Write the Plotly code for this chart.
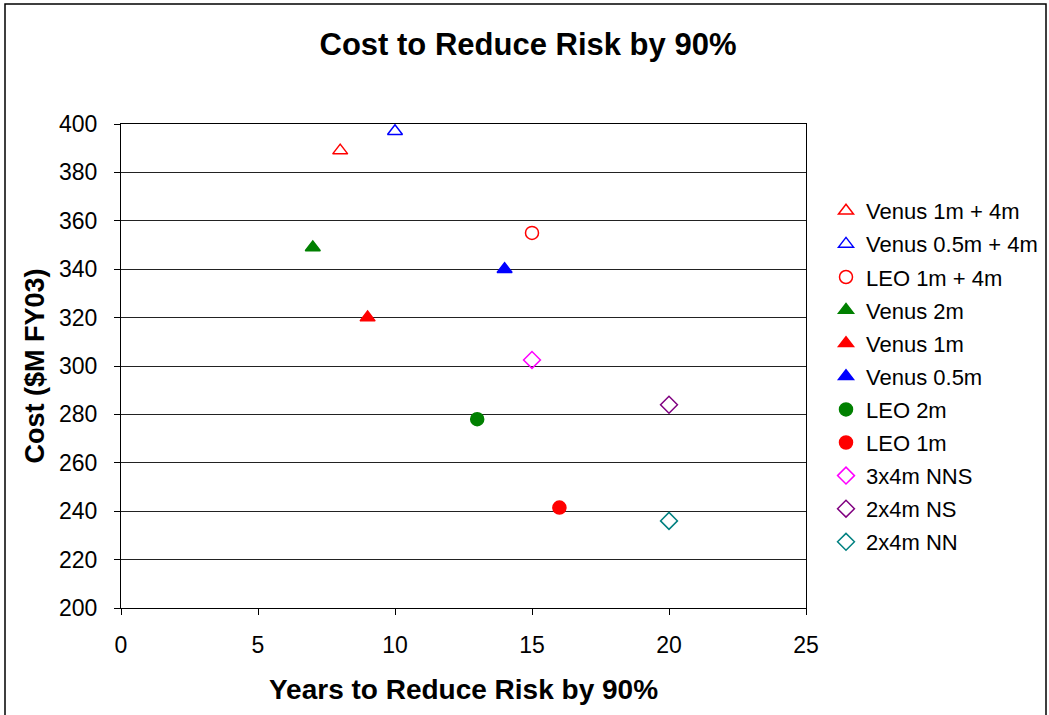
import plotly.graph_objects as go

series_names = ["Venus 1m + 4m", "Venus 0.5m + 4m", "LEO 1m + 4m", "Venus 2m", "Venus 1m",
                "Venus 0.5m", "LEO 2m", "LEO 1m", "3x4m NNS", "2x4m NS", "2x4m NN"]
years = [8, 10, 15, 7, 9, 14, 13, 16, 15, 20, 20]
costs = [389, 397, 355, 349, 320, 340, 278, 241.5, 302.5, 284, 236]
symbols = ["triangle-up-open", "triangle-up-open", "circle-open", "triangle-up", "triangle-up",
           "triangle-up", "circle", "circle", "diamond-open", "diamond-open", "diamond-open"]
colors = ["#FF0000", "#0000FF", "#FF0000", "#008000", "#FF0000",
          "#0000FF", "#008000", "#FF0000", "#FF00FF", "#800080", "#008080"]

fig = go.Figure()
for i, name in enumerate(series_names):
    fig.add_trace(go.Scatter(
        x=[years[i]], y=[costs[i]], mode="markers", name=name,
        legendgroup=name,
        marker=dict(symbol=symbols[i], color=colors[i], size=13,
                    line=dict(width=1.5, color=colors[i])),
    ))

W, H = 1049, 715
L, R, T, B = 121, 806, 124, 608
pw, ph = R - L, B - T

def px(xp):
    return (xp - L) / pw

def py(yp):
    return (B - yp) / ph

fig.update_layout(
    width=W, height=H,
    margin=dict(l=L, r=W - R, t=T, b=H - B, autoexpand=False),
    paper_bgcolor="white", plot_bgcolor="white",
    font=dict(family="Arial, Liberation Sans, sans-serif", color="black"),
    title=dict(text="<b>Cost to Reduce Risk by 90%</b>", x=528 / W, xanchor="center",
               y=1 - 44 / H, yanchor="middle", font=dict(size=31)),
    xaxis=dict(range=[0, 25], dtick=5, showgrid=False, zeroline=False,
               ticks="outside", ticklen=6, tickcolor="black", ticklabelstandoff=10,
               tickfont=dict(size=23), showline=True, linecolor="black", mirror=True,
               title=dict(text="<b>Years to Reduce Risk by 90%</b>", font=dict(size=28), standoff=22)),
    yaxis=dict(range=[200, 400], dtick=20, showgrid=True, gridcolor="#222222", gridwidth=1,
               zeroline=False, ticks="outside", ticklen=6, tickcolor="black", ticklabelstandoff=12,
               tickfont=dict(size=23), showline=True, linecolor="black", mirror=True,
               title=dict(text="<b>Cost ($M FY03)</b>", font=dict(size=27), standoff=6)),
    legend=dict(x=px(826), y=py(190), xanchor="left", yanchor="top",
                font=dict(size=22), tracegroupgap=1.5, itemwidth=30, maxheight=600,
                bgcolor="rgba(0,0,0,0)"),
    showlegend=True,
    shapes=[dict(type="rect", xref="paper", yref="paper",
                 x0=px(5), x1=px(1046), y0=py(740), y1=py(4),
                 line=dict(color="black", width=1.5), fillcolor="rgba(0,0,0,0)", layer="below")],
)

fig.write_html("out.html", config={"displayModeBar": False},
               post_script="document.body.style.margin='0';document.body.style.overflow='hidden';")
